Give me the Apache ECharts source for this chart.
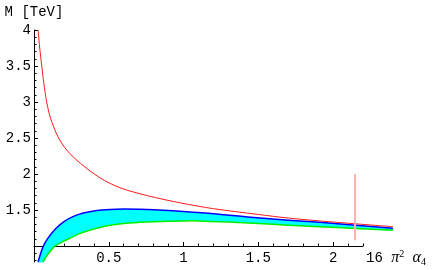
<!DOCTYPE html>
<html>
<head>
<meta charset="utf-8">
<script src="https://cdn.jsdelivr.net/npm/echarts@6/dist/echarts.min.js"></script>
<style>html,body{margin:0;padding:0;background:#fff}#c{width:436px;height:270px}</style>
</head>
<body>
<div id="c"></div>
<script>
// ---- data ----
const redCurve = [[0.028,4.0],[0.036,3.8],[0.045,3.62],[0.052,3.5],[0.065,3.27],[0.085,3.0],[0.11,2.78],[0.16,2.52],[0.22,2.33],[0.31,2.15],[0.44,1.95],[0.575,1.81],[0.76,1.70],[0.98,1.60],[1.2,1.52],[1.5,1.44],[1.7,1.39],[1.91,1.35],[2.15,1.31],[2.4,1.27]];
const blueCurve = [[0.027,0.78],[0.045,0.9],[0.06,0.99],[0.09,1.1],[0.14,1.23],[0.2,1.34],[0.26,1.41],[0.33,1.46],[0.42,1.495],[0.51,1.51],[0.6,1.515],[0.7,1.512],[0.8,1.505],[1.0,1.48],[1.2,1.45],[1.45,1.40],[1.7,1.36],[1.91,1.33],[2.15,1.29],[2.4,1.25]];
const greenCurve = [[0.06,0.78],[0.09,0.88],[0.134,0.99],[0.18,1.05],[0.24,1.11],[0.3,1.17],[0.355,1.21],[0.44,1.26],[0.51,1.29],[0.6,1.315],[0.7,1.33],[0.8,1.34],[1.0,1.35],[1.1,1.35],[1.3,1.335],[1.5,1.315],[1.7,1.29],[1.91,1.27],[2.15,1.245],[2.4,1.22]];
const pinkLine = [[2.147,2.0],[2.147,1.08]];

const xMajorTicks = [0.5, 1, 1.5, 2];
const xMinorTicks = [0.1,0.2,0.3,0.4,0.6,0.7,0.8,0.9,1.1,1.2,1.3,1.4,1.6,1.7,1.8,1.9,2.1,2.2];
const yMajorTicks = [1, 1.5, 2, 2.5, 3, 3.5, 4];
const yTickLabels = [1.5, 2, 2.5, 3, 3.5, 4];
const yMinorTicks = [0.8,0.9,1.1,1.2,1.3,1.4,1.6,1.7,1.8,1.9,2.1,2.2,2.3,2.4,2.6,2.7,2.8,2.9,3.1,3.2,3.3,3.4,3.6,3.7,3.8,3.9];

const X_MIN = 0, X_MAX = 2.2, Y_MIN = 0.78, Y_MAX = 4;
const mono = 'Liberation Mono';
const monoRich = {m: {fontFamily: mono, fontSize: 14, color: '#000'}};

function curveSeries(points, color, width, z, smooth) {
  return {
    type: 'custom', xAxisIndex: 0, yAxisIndex: 0, silent: true, z: z, clip: false,
    data: [[points[0][0], points[0][1]]],
    renderItem: function (params, api) {
      return {
        type: 'polyline',
        shape: {points: points.map(p => api.coord(p)), smooth: smooth},
        style: {stroke: color, lineWidth: width, fill: null}
      };
    }
  };
}

const chart = echarts.init(document.getElementById('c'), null, {renderer: 'canvas'});
chart.setOption({
  animation: false,
  backgroundColor: '#fff',
  textStyle: {fontFamily: mono, color: '#000'},
  grid: {left: 34, top: 30, right: 73, bottom: 8, containLabel: false, outerBoundsMode: 'none'},
  xAxis: [{
    type: 'value', min: X_MIN, max: X_MAX, position: 'bottom', offset: -16,
    name: '{n|16 }{g|π}{sup|2}{n| }{a|α}{sub|4}',
    nameLocation: 'end', nameGap: 3,
    nameTextStyle: {
      verticalAlign: 'middle', align: 'left', padding: [24, 0, 0, 0],
      rich: {
        n: {fontFamily: mono, fontSize: 14, color: '#000'},
        g: {fontFamily: 'Liberation Serif', fontStyle: 'italic', fontSize: 16, color: '#000'},
        a: {fontFamily: 'Liberation Serif', fontStyle: 'italic', fontSize: 16, color: '#000'},
        sup: {fontFamily: 'Liberation Serif', fontSize: 10, color: '#000', verticalAlign: 'top', padding: [0,0,8,0]},
        sub: {fontFamily: 'Liberation Serif', fontSize: 10, color: '#000', verticalAlign: 'bottom', padding: [6,0,0,0]}
      }
    },
    axisLine: {show: true, onZero: false, lineStyle: {color: '#000', width: 1}},
    axisTick: {show: true, inside: true, length: 4, customValues: xMajorTicks, lineStyle: {color: '#000', width: 1}},
    axisLabel: {show: true, customValues: xMajorTicks, margin: 5, fontFamily: mono, fontSize: 14, color: '#000',
      hideOverlap: false, formatter: '{m|{value}}', rich: monoRich},
    splitLine: {show: false}, minorTick: {show: false}
  }, {
    type: 'value', min: X_MIN, max: X_MAX, position: 'bottom', offset: -16,
    axisLine: {show: false, onZero: false},
    axisTick: {show: true, inside: true, length: 2.5, customValues: xMinorTicks, lineStyle: {color: '#000', width: 1}},
    axisLabel: {show: false},
    splitLine: {show: false}
  }],
  yAxis: [{
    type: 'value', min: Y_MIN, max: Y_MAX, position: 'left',
    name: 'M [TeV]', nameLocation: 'end', nameGap: 18,
    nameTextStyle: {fontFamily: mono, fontSize: 14, color: '#000', verticalAlign: 'middle', align: 'center'},
    axisLine: {show: true, onZero: false, lineStyle: {color: '#000', width: 1}},
    axisTick: {show: true, inside: true, length: 4, customValues: yMajorTicks, lineStyle: {color: '#000', width: 1}},
    axisLabel: {show: true, customValues: yTickLabels, margin: 3, fontFamily: mono, fontSize: 14, color: '#000',
      hideOverlap: false, formatter: '{m|{value}}', rich: monoRich},
    splitLine: {show: false}
  }, {
    type: 'value', min: Y_MIN, max: Y_MAX, position: 'left',
    axisLine: {show: false, onZero: false},
    axisTick: {show: true, inside: true, length: 2.5, customValues: yMinorTicks, lineStyle: {color: '#000', width: 1}},
    axisLabel: {show: false},
    splitLine: {show: false}
  }],
  series: [
    {
      type: 'custom', xAxisIndex: 0, yAxisIndex: 0, silent: true, z: 1, clip: false,
      data: [[blueCurve[0][0], blueCurve[0][1]]],
      renderItem: function (params, api) {
        const pts = blueCurve.map(p => api.coord(p))
          .concat(greenCurve.slice().reverse().map(p => api.coord(p)));
        return {type: 'polygon', shape: {points: pts, smooth: 0.25}, style: {fill: '#00ffff', stroke: null}};
      }
    },
    curveSeries(greenCurve, '#00ee00', 1.5, 3, 0.3),
    curveSeries(blueCurve, '#0000ff', 1.5, 4, 0.3),
    curveSeries(redCurve, '#ff1a1a', 1, 5, 0.3),
    curveSeries(pinkLine, '#ffb0b0', 2, 6, 0)
  ]
});
</script>
</body>
</html>
